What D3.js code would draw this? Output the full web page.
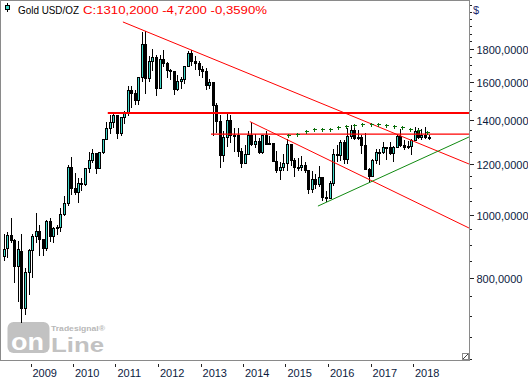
<!DOCTYPE html>
<html><head><meta charset="utf-8">
<script src="https://cdn.jsdelivr.net/npm/d3@7"></script>
<style>
html,body{margin:0;padding:0;background:#fff;}
svg{display:block;font-family:"Liberation Sans",Arial,sans-serif;}
</style></head><body>
<svg id="c" width="528" height="380"></svg>
<script>
// ---- DATA (monthly Gold USD/OZ, May 2008 .. May 2018) ----
const firstMonth = "2008-05";
const open = [
 864,887,930,912,833,880,718,816,
 882,927,942,916,887,978,926,954,955,1001,1040,1182,
 1097,1081,1118,1113,1179,1213,1244,1181,1247,1307,1359,1386,
 1421,1333,1410,1439,1556,1536,1500,1628,1827,1620,1722,1746,
 1566,1737,1710,1669,1664,1560,1604,1615,1690,1773,1720,1712,
 1675,1663,1579,1596,1476,1393,1234,1314,1396,1327,1323,1253,
 1202,1240,1326,1284,1296,1246,1327,1282,1287,1210,1172,1183,
 1199,1283,1213,1183,1183,1190,1172,1095,1135,1115,1142,1065,
 1061,1118,1238,1233,1293,1215,1322,1351,1309,1316,1277,1173,
 1146,1211,1249,1249,1268,1268,1242,1269,1322,1280,1271,1275,
 1303,1345,1318,1325,1315];
const high = [
 936,942,988,919,913,936,828,887,
 934,1007,966,918,982,990,960,965,1025,1070,1195,1227,
 1162,1140,1139,1180,1250,1265,1245,1252,1308,1388,1424,1431,
 1424,1415,1447,1577,1577,1556,1632,1913,1921,1756,1803,1764,
 1764,1791,1720,1677,1668,1641,1632,1693,1790,1796,1755,1724,
 1695,1684,1617,1604,1488,1424,1348,1434,1424,1362,1361,1268,
 1280,1345,1392,1332,1315,1326,1345,1323,1288,1256,1208,1239,
 1307,1283,1224,1224,1232,1205,1174,1170,1157,1191,1142,1088,
 1128,1263,1283,1304,1303,1362,1375,1367,1352,1326,1337,1182,
 1220,1264,1262,1296,1270,1296,1275,1331,1358,1306,1299,1308,
 1366,1361,1356,1365,1326];
const low = [
 850,860,906,786,736,681,702,752,
 801,905,866,865,880,910,905,933,940,995,1033,1075,
 1073,1045,1088,1110,1162,1202,1157,1176,1240,1305,1330,1360,
 1308,1323,1381,1418,1462,1478,1478,1600,1535,1600,1667,1523,
 1563,1688,1627,1614,1527,1549,1564,1591,1688,1692,1672,1635,
 1626,1555,1563,1321,1338,1180,1208,1270,1292,1251,1227,1181,
 1200,1238,1277,1268,1240,1240,1281,1281,1206,1161,1131,1168,
 1167,1191,1142,1169,1170,1162,1077,1080,1098,1106,1052,1046,
 1061,1108,1208,1210,1200,1199,1311,1302,1305,1241,1171,1123,
 1146,1200,1195,1241,1214,1236,1205,1267,1271,1260,1264,1236,
 1302,1307,1303,1310,1305];
const close = [
 886,930,912,833,884,718,816,882,
 927,942,916,887,978,926,954,955,1001,1040,1182,1097,
 1081,1118,1113,1179,1213,1244,1181,1247,1307,1359,1386,1421,
 1333,1410,1439,1556,1536,1500,1628,1827,1620,1722,1746,1566,
 1737,1710,1669,1664,1560,1604,1615,1690,1773,1720,1712,1675,
 1663,1579,1596,1476,1393,1234,1314,1396,1327,1323,1253,1202,
 1240,1326,1284,1296,1246,1327,1282,1287,1210,1172,1183,1199,
 1283,1213,1183,1183,1190,1172,1095,1135,1115,1142,1065,1061,
 1118,1238,1233,1293,1215,1322,1351,1309,1316,1277,1173,1146,
 1211,1249,1249,1268,1268,1242,1269,1322,1280,1271,1275,1303,
 1345,1318,1325,1315,1310];

const yearTicks = ["2009","2010","2011","2012","2013","2014","2015","2016","2017","2018"];
const priceTicks = [800,1000,1200,1400,1600,1800];
const minorStep = 50;

// drawn studies: [date, price]
const trendA = [["2011-03-06",1981],["2019-04-27",1198]];
const trendB = [["2014-03-01",1392],["2019-04-27",955]];
const greenLine = [["2015-10-07",1032],["2019-04-27",1318]];
const resistHigh = [["2010-10-27",1435],["2019-04-27",1435]];
const resistLow = [["2013-04-01",1332],["2019-04-27",1332]];
const plusDates = ["2015-01-23","2015-04-07","2015-06-23","2015-09-02","2015-11-09","2016-01-18","2016-03-26","2016-06-04","2016-08-12","2016-10-19","2017-01-03","2017-03-07","2017-05-15","2017-07-22","2017-09-28","2017-12-06","2018-02-13","2018-04-28"];
const plusValues = [1328,1332,1346,1355,1356,1356,1367,1372,1375,1380,1378,1378,1375,1370,1365,1358,1351,1343];

const titleName = "Gold USD/OZ";
const titleQuote = "C:1310,2000 -4,7200 -0,3590%";

// ---- SETUP ----
const W = 528, H = 380, PR = 469, PB = 360;
const svg = d3.select("#c");
const pd = d3.utcParse("%Y-%m-%d");
const x = d3.scaleUtc().domain([pd("2009-01-01"), pd("2018-01-01")]).range([30.5, 413]);
const y = d3.scaleLog().domain([800, 1800]).range([278, 49]);
const loc = d3.formatLocale({decimal:",", thousands:".", grouping:[3], currency:["","$"]});
const fmt = loc.format(".4f");

const candles = open.map((o,i)=>{
  const d = d3.utcMonth.offset(d3.utcParse("%Y-%m")(firstMonth), i);
  return {x: x(d3.utcDay.offset(d,14)), o, h:high[i], l:low[i], c:close[i]};
});

svg.append("defs").append("clipPath").attr("id","pc")
  .append("rect").attr("x",0).attr("y",0).attr("width",PR).attr("height",PB);

// frame
svg.append("path").attr("d",`M0.5,${PB+0.5}V0.5H${PR+0.5}V${PB+0.5}H0.5`)
  .attr("fill","none").attr("stroke","#8a8a8a").attr("shape-rendering","crispEdges");

// watermark
const wm = svg.append("g");
wm.append("rect").attr("x",7.5).attr("y",322).attr("width",42).attr("height",31).attr("rx",6)
  .attr("fill","#c2c2c2");
wm.append("text").attr("x",11).attr("y",350).attr("font-size",24).attr("font-weight","bold")
  .attr("fill","#fff").attr("textLength",33).attr("lengthAdjust","spacingAndGlyphs").text("on");
wm.append("text").attr("x",51).attr("y",352).attr("font-size",21).attr("font-weight","bold")
  .attr("fill","#c2c2c2").attr("textLength",53).attr("lengthAdjust","spacingAndGlyphs").text("Line");
wm.append("text").attr("x",51).attr("y",331).attr("font-size",8).attr("font-weight","bold")
  .attr("fill","#b8b8b8").attr("textLength",54).attr("lengthAdjust","spacingAndGlyphs").text("Tradesignal®");

const plot = svg.append("g").attr("clip-path","url(#pc)");

// candles
const cg = plot.append("g").attr("shape-rendering","crispEdges");
cg.selectAll("line.w").data(candles).join("line")
  .attr("x1",d=>Math.round(d.x)+0.5).attr("x2",d=>Math.round(d.x)+0.5)
  .attr("y1",d=>y(d.h)).attr("y2",d=>y(d.l)).attr("stroke","#000");
cg.selectAll("rect").data(candles).join("rect")
  .attr("x",d=>Math.round(d.x)-0.5).attr("width",2)
  .attr("y",d=>y(Math.max(d.o,d.c))).attr("height",d=>Math.max(1,Math.abs(y(d.o)-y(d.c))))
  .attr("fill",d=>d.c>=d.o?"#3ed8c8":"#000").attr("stroke","#000").attr("stroke-width",1);

// studies
function seg(pts, color, w){
  plot.append("line")
    .attr("x1",x(pd(pts[0][0]))).attr("y1",y(pts[0][1]))
    .attr("x2",x(pd(pts[1][0]))).attr("y2",y(pts[1][1]))
    .attr("stroke",color).attr("stroke-width",w);
}
seg(resistHigh,"#ff0000",2);
seg(resistLow,"#ff0000",1.3);
seg(trendA,"#ff0000",1);
seg(trendB,"#ff0000",1);
seg(greenLine,"#108a10",1);

plot.append("g").selectAll("path").data(plusDates.map((d,i)=>[x(pd(d)),y(plusValues[i])])).join("path")
  .attr("d",p=>`M${Math.round(p[0])-1.5},${Math.round(p[1])+0.5}h4M${Math.round(p[0])+0.5},${Math.round(p[1])-1.5}v4`)
  .attr("stroke","#0a6e0a").attr("stroke-width",1).attr("shape-rendering","crispEdges");

// y axis
const minors = d3.range(600, 2150, minorStep).filter(v=>!priceTicks.includes(v) && y(v)>=2 && y(v)<=PB);
const ya = svg.append("g").attr("transform",`translate(${PR+0.5},0)`);
ya.call(d3.axisRight(y).tickValues(minors).tickSize(2).tickFormat(""));
ya.call(g=>g.select(".domain").remove());
const yb = svg.append("g").attr("transform",`translate(${PR+0.5},0)`);
yb.call(d3.axisRight(y).tickValues(priceTicks).tickSize(4).tickPadding(3).tickFormat(fmt));
yb.select(".domain").remove();
svg.selectAll(".tick line").attr("stroke","#222").attr("shape-rendering","crispEdges");
yb.selectAll("text").attr("font-family","Liberation Sans, Arial, sans-serif").attr("font-size",11)
  .attr("fill","#0b1a3e").attr("dy","0.42em");
svg.append("text").attr("x",473).attr("y",14).attr("font-size",11).attr("fill","#1c2a70").text("$");

// x axis
const xa = svg.append("g").attr("transform",`translate(0,364)`);
xa.call(d3.axisBottom(x).tickValues(yearTicks.map(s=>pd(s+"-01-01"))).tickSize(3).tickFormat(d3.utcFormat("%Y")));
xa.select(".domain").remove();
xa.selectAll(".tick line").attr("stroke","#222").attr("shape-rendering","crispEdges");
xa.selectAll("text").attr("text-anchor","start").attr("x",1.5).attr("y",13).attr("dy",0)
  .attr("font-family","Liberation Sans, Arial, sans-serif").attr("font-size",11).attr("fill","#0b1a3e");

// resize icon
svg.append("rect").attr("x",462.5).attr("y",353.5).attr("width",6).attr("height",6)
  .attr("fill","#fff").attr("stroke","#8a8a8a").attr("shape-rendering","crispEdges");
svg.append("line").attr("x1",463).attr("y1",359).attr("x2",468).attr("y2",354).attr("stroke","#444");

// title
const tg = svg.append("g");
tg.append("line").attr("x1",7.5).attr("x2",7.5).attr("y1",3).attr("y2",12).attr("stroke","#000").attr("shape-rendering","crispEdges");
tg.append("rect").attr("x",5.5).attr("y",5.5).attr("width",4).attr("height",4).attr("fill","#3ed8c8").attr("stroke","#000").attr("shape-rendering","crispEdges");
tg.append("text").attr("x",18).attr("y",13.5).attr("font-size",11).attr("fill","#000")
  .attr("textLength",61).attr("lengthAdjust","spacingAndGlyphs").text(titleName);
tg.append("text").attr("x",83).attr("y",13.5).attr("font-size",11).attr("fill","#ff0000")
  .attr("textLength",184).attr("lengthAdjust","spacingAndGlyphs").text(titleQuote);
</script>
</body></html>
